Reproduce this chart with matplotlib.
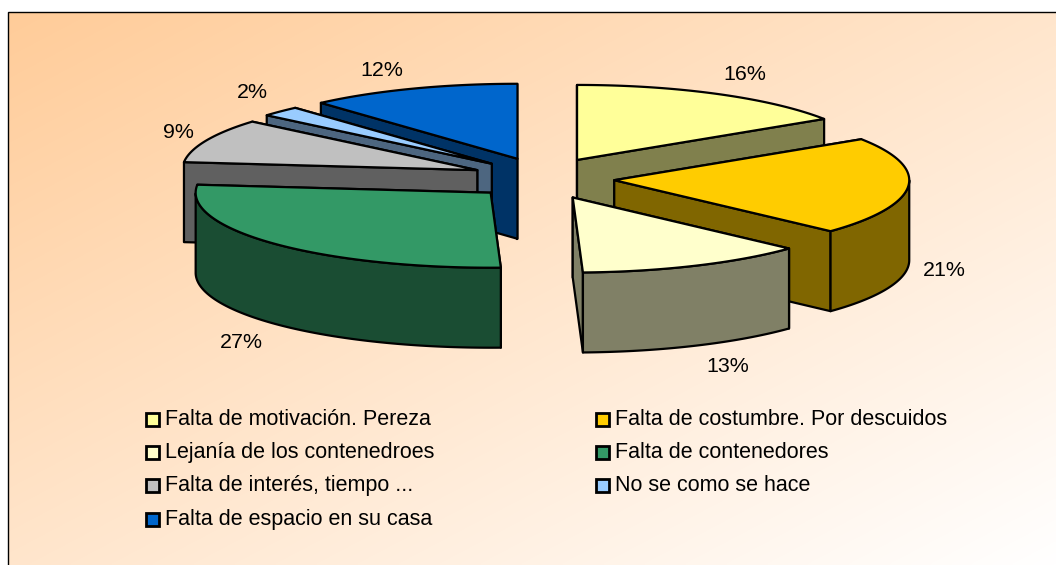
import numpy as np
import matplotlib
matplotlib.use('Agg')
import matplotlib.pyplot as plt
from matplotlib.colors import to_rgb
from matplotlib.patches import Polygon, Rectangle

plt.rcParams['font.family'] = ['Liberation Sans', 'DejaVu Sans']

# Datos
categorias = ['Falta de motivación. Pereza', 'Falta de costumbre. Por descuidos',
              'Lejanía de los contenedroes', 'Falta de contenedores',
              'Falta de interés, tiempo ...', 'No se como se hace',
              'Falta de espacio en su casa']
valores = [15.8, 21.1, 12.55, 27.25, 9.49, 2.2, 11.61]
colores = ['#FFFF99', '#FFCC00', '#FFFFCC', '#339966', '#C0C0C0', '#99CCFF', '#0066CC']

# Geometria del pastel en pixeles de la imagen
W, H = 1056, 565
CX, CY = 543, 178.4
RX, RY = 295, 75
EX, EY = 71.5, 21      # separacion de las porciones
PROF = 80              # altura del cilindro
LW = 1.6

pos_etiquetas = [(745, 74), (944, 270), (728, 366), (241, 343), (178, 132), (252, 93), (382, 70)]
pos_leyenda = [(145.5, 419), (595.5, 419), (145.5, 452), (595.5, 452), (145.5, 485), (595.5, 485), (145.5, 519)]
orden_dibujo = [0, 1, 2, 6, 5, 4, 3]

fig = plt.figure(figsize=(W / 100, H / 100), dpi=100)
ax = fig.add_axes([0, 0, 1, 1])
ax.axis('off')

# Fondo con degradado diagonal
xx, yy = np.meshgrid(np.linspace(0, 1, 300), np.linspace(0, 1, 200))
t = np.clip((xx + yy) / 2, 0, 1)[..., None]
ini = np.array([255, 204, 153]) / 255
fondo = ini * (1 - t) + np.ones(3) * t
ax.imshow(fondo, extent=(8, W, H, 12), aspect='auto', zorder=0, interpolation='bilinear')
ax.set_xlim(0, W)
ax.set_ylim(H, 0)
ax.plot([8, 8, W], [H, 12, 12], color='black', lw=1.0, zorder=1, solid_joinstyle='miter')


def cara(puntos, color, z):
    ax.add_patch(Polygon(puntos, closed=True, facecolor=color, edgecolor='black',
                         lw=LW, joinstyle='round', zorder=z))


total = sum(valores)
acum = np.cumsum([0] + valores) / total * 2 * np.pi
z = 2
for i in orden_dibujo:
    a0, a1 = acum[i], acum[i + 1]
    media = (a0 + a1) / 2
    ox = CX + EX * np.sin(media)
    oy = CY - EY * np.cos(media)
    arco = np.linspace(a0, a1, 120)
    arco_x = ox + RX * np.sin(arco)
    arco_y = oy - RY * np.cos(arco)
    lado = np.array(to_rgb(colores[i])) * 0.5

    # caras radiales, primero la de mas atras
    radiales = [(arco_x[0], arco_y[0]), (arco_x[-1], arco_y[-1])]
    radiales.sort(key=lambda p: p[1])
    for px, py in radiales:
        cara([(ox, oy), (px, py), (px, py + PROF), (ox, oy + PROF)], lado, z)
        z += 1

    # parte visible de la pared exterior
    vis = (arco >= np.pi / 2) & (arco <= 3 * np.pi / 2)
    if vis.sum() > 1:
        vx, vy = arco_x[vis], arco_y[vis]
        pared = list(zip(vx, vy)) + list(zip(vx[::-1], vy[::-1] + PROF))
        cara(pared, lado, z)
        z += 1

    # tapa
    cara([(ox, oy)] + list(zip(arco_x, arco_y)), colores[i], z)
    z += 1

# Etiquetas de porcentaje
for v, (x, y) in zip(valores, pos_etiquetas):
    ax.text(x, y, f'{round(v)}%', ha='center', va='center', fontsize=15.4, color='black', zorder=z)

# Leyenda
for nombre, color, (x, y) in zip(categorias, colores, pos_leyenda):
    ax.add_patch(Rectangle((x, y - 6.5), 13, 13, facecolor=color, edgecolor='black', lw=2, zorder=z))
    ax.text(x + 19.5, y + 0.5, nombre, ha='left', va='center', fontsize=15.5, color='black', zorder=z)

fig.savefig('out.png', dpi=100)
